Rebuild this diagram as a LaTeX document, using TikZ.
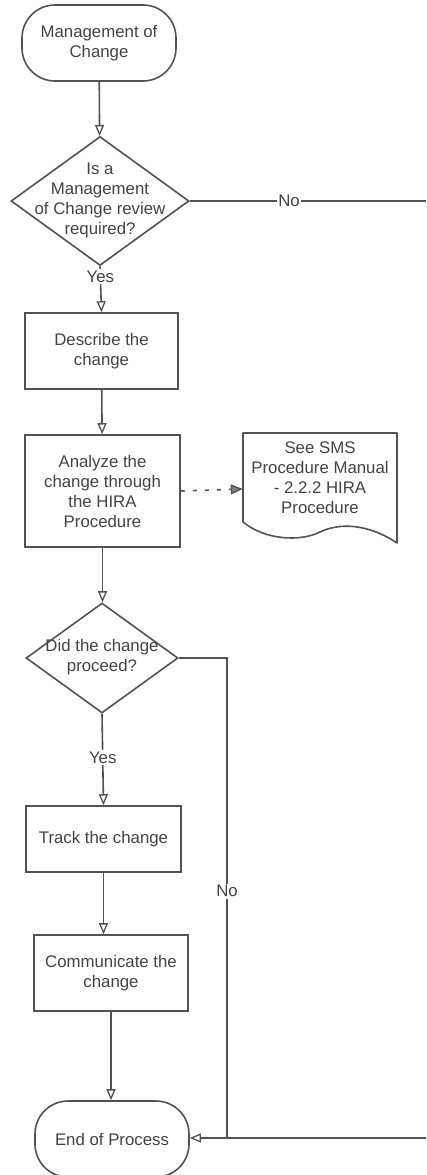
\documentclass[tikz,border=0pt]{standalone}
\usepackage{fontspec}
\setmainfont{Liberation Sans}
\usetikzlibrary{arrows.meta,shapes.geometric}
\definecolor{ink}{HTML}{525252}
\definecolor{txt}{HTML}{434343}
\begin{document}
\begin{tikzpicture}[x=1pt,y=-1pt,
  every node/.style={font=\fontsize{16.8}{20}\selectfont, text=txt, align=center},
  flow/.style={draw=ink, line width=1.6pt},
  arr/.style={flow, -{Triangle[fill=white, length=11pt, width=9pt, line width=1.3pt]}},
  stepbox/.style={draw=ink, line width=1.6pt, rectangle, inner sep=0pt},
  terminal/.style={stepbox, rounded corners=33pt, minimum width=154pt, minimum height=76pt},
  decision/.style={draw=ink, line width=1.6pt, diamond, inner sep=0pt},
  lbl/.style={fill=white, inner sep=1.5pt}
]
\useasboundingbox (0,0) rectangle (426,1175);

% terminals
\node[terminal] (start) at (99,43) {Management of\\Change};
\node[terminal] (endp) at (112,1139) {End of Process};

% decisions (labels placed over the shape so they can overhang it)
\node[decision, minimum width=178pt, minimum height=129pt,
  label={[yshift=0.5pt]center:Is a\\Management\\of Change review\\required?}] (d1) at (100,201) {};
\node[decision, minimum width=152pt, minimum height=110pt,
  label={[yshift=1pt]center:Did the change\\proceed?}] (d2) at (102,658) {};

% process steps
\node[stepbox, minimum width=153pt, minimum height=76pt] (b1) at (101.5,351) {Describe the\\change};
\node[stepbox, minimum width=155pt, minimum height=112pt] (b2) at (102.5,491) {Analyze the\\change through\\the HIRA\\Procedure};
\node[stepbox, minimum width=155pt, minimum height=66pt] (b3) at (103.5,839) {Track the change};
\node[stepbox, minimum width=154pt, minimum height=76pt] (b4) at (111,973) {Communicate the\\change};

% reference document
\node[rectangle, inner sep=0pt, minimum width=154pt, minimum height=112pt,
  label={[yshift=11pt]center:See SMS\\Procedure Manual\\- 2.2.2 HIRA\\Procedure}] (doc) at (320,489) {};
\draw[flow, line join=round] (243,522) -- (243,433) -- (397,433) -- (397,543)
  .. controls (375,528) and (345,520) .. (320,532)
  .. controls (300,542) and (265,540) .. (243,522);

% off-page continuation points
\coordinate (e1) at (426,201);
\coordinate (e2) at (426,1138);
\coordinate (jn) at (227,1138);

% connectors
\draw[arr] (start) -- (d1);
\draw[flow] (d1.east) -- node[lbl, pos=0.42] {No} (e1);
\draw[arr] (d1.south) -- node[lbl, pos=0.22] {Yes} (b1.north);
\draw[arr] (b1) -- (b2);
\draw[flow, dash pattern=on 4pt off 8pt, -{Triangle[fill=ink!75, length=12pt, width=10pt, line width=1.3pt]}] (b2.east) -- (doc.west);
\draw[arr] (b2.south) -- (b2.south |- d2.north);
\draw[arr] (d2.south) -- node[lbl, pos=0.48] {Yes} (b3.north);
\draw[arr] (b3.south) -- (b3.south |- b4.north);
\draw[arr] (b4.south) -- (b4.south |- endp.north);
\draw[flow] (d2.east) -| node[lbl, pos=0.743] {No} (jn);
\draw[arr] (e2) -- (endp.east |- e2);
\end{tikzpicture}
\end{document}
